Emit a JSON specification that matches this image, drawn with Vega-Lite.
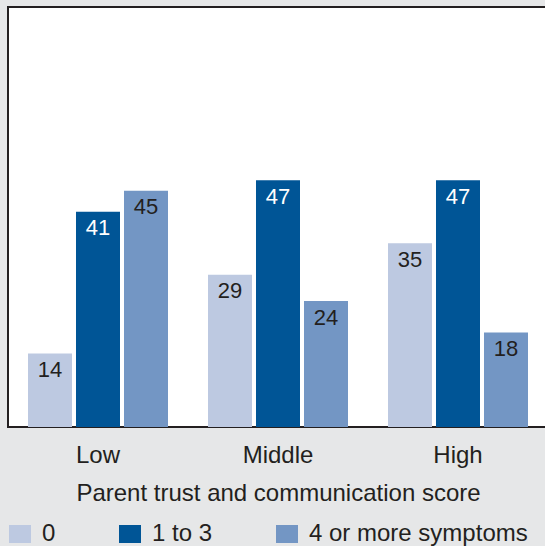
{
  "$schema": "https://vega.github.io/schema/vega-lite/v6.json",
  "width": 540,
  "height": 420,
  "autosize": {"type": "none"},
  "padding": {"left": 8, "top": 7, "right": 0, "bottom": 119},
  "background": "#e6e7e8",
  "config": {
    "view": {"fill": "white", "stroke": "#231f20", "strokeWidth": 2},
    "font": "Liberation Sans"
  },
  "data": {
    "values": [
      {"score": "Low", "group": "0", "value": 14},
      {"score": "Low", "group": "1 to 3", "value": 41},
      {"score": "Low", "group": "4 or more symptoms", "value": 45},
      {"score": "Middle", "group": "0", "value": 29},
      {"score": "Middle", "group": "1 to 3", "value": 47},
      {"score": "Middle", "group": "4 or more symptoms", "value": 24},
      {"score": "High", "group": "0", "value": 35},
      {"score": "High", "group": "1 to 3", "value": 47},
      {"score": "High", "group": "4 or more symptoms", "value": 18}
    ]
  },
  "encoding": {
    "x": {
      "field": "score",
      "type": "nominal",
      "sort": ["Low", "Middle", "High"],
      "scale": {"paddingInner": 0, "paddingOuter": 0},
      "axis": {
        "title": "Parent trust and communication score",
        "labelAngle": 0,
        "ticks": false,
        "tickSize": 0,
        "domain": false,
        "labelFontSize": 24,
        "labelColor": "#231f20",
        "labelPadding": 16,
        "titleFontSize": 24,
        "titleFontWeight": "normal",
        "titleColor": "#231f20",
        "titlePadding": 14
      }
    },
    "xOffset": {
      "field": "group",
      "type": "nominal",
      "sort": ["0", "1 to 3", "4 or more symptoms"],
      "scale": {"paddingInner": 0.0833, "paddingOuter": 0.4167}
    },
    "y": {
      "field": "value",
      "type": "quantitative",
      "scale": {"domain": [0, 80]},
      "axis": null
    }
  },
  "layer": [
    {
      "mark": {"type": "bar"},
      "encoding": {
        "color": {
          "field": "group",
          "type": "nominal",
          "sort": ["0", "1 to 3", "4 or more symptoms"],
          "scale": {
            "domain": ["0", "1 to 3", "4 or more symptoms"],
            "range": ["#bdc9e1", "#005596", "#7396c4"]
          },
          "legend": {
            "orient": "none",
            "direction": "horizontal",
            "legendX": 0,
            "legendY": 515,
            "padding": 0,
            "title": null,
            "symbolType": "M-1,-0.818H1V0.818H-1Z",
            "symbolSize": 484,
            "symbolStrokeWidth": 0,
            "symbolOpacity": 1,
            "labelFontSize": 24,
            "labelColor": "#231f20",
            "labelOffset": 10,
            "labelLimit": 400,
            "columnPadding": 62
          }
        }
      }
    },
    {
      "mark": {"type": "text", "baseline": "alphabetic", "dy": 23.5, "fontSize": 22},
      "encoding": {
        "text": {"field": "value", "type": "quantitative"},
        "color": {
          "condition": {"test": "datum.group === '1 to 3'", "value": "white"},
          "value": "#231f20"
        }
      }
    }
  ]
}
